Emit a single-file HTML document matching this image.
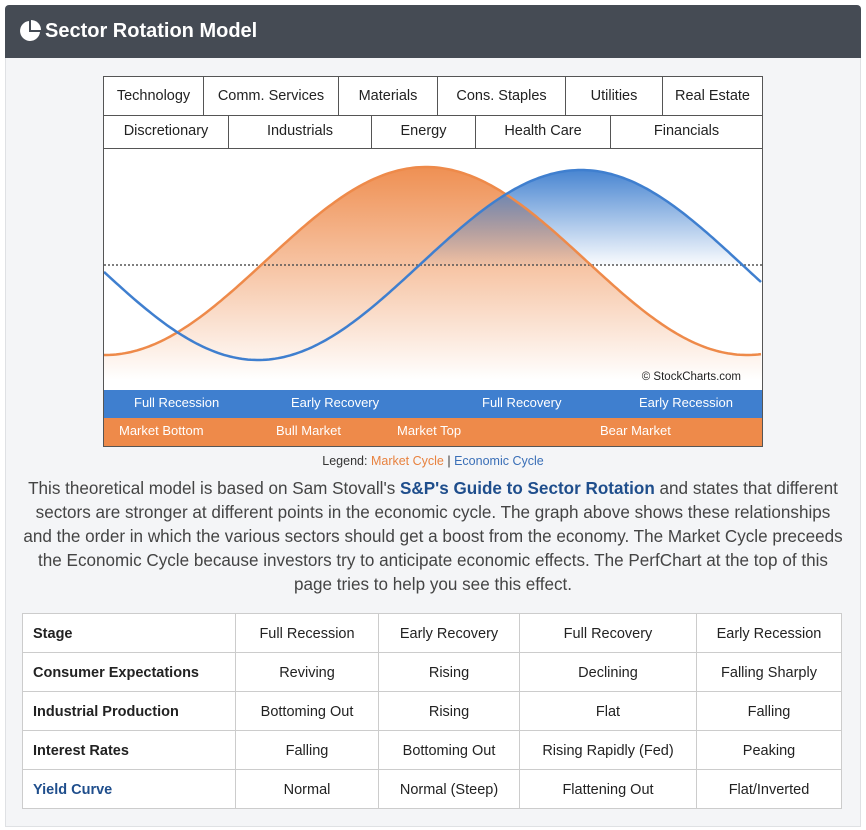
<!DOCTYPE html>
<html><head><style>
body{margin:0;width:866px;height:830px;background:#fff;font-family:"Liberation Sans",sans-serif;position:relative;overflow:hidden}
.hdr{position:absolute;left:5px;top:5px;width:856px;height:53px;background:#454b54;border-radius:4px 4px 0 0;color:#fff;font-weight:bold;font-size:20px;line-height:53px}
.body{position:absolute;left:5px;top:58px;width:854px;height:768px;background:#f4f5f7;border:1px solid #dfe1e4;border-top:none}
.chart{position:absolute;left:103px;top:76px;width:658px;height:369px;border:1px solid #555;background:#fff}
.row{position:absolute;left:0;width:658px;display:flex;border-bottom:1px solid #555}
.row div{border-right:1px solid #555;text-align:center;font-size:14.5px;color:#222;box-sizing:border-box}
.row div:last-child{border-right:none}
.band{position:absolute;left:0;width:658px;height:28px;color:#fff;font-size:13px;line-height:26px}
.band span{position:absolute}
.leg{position:absolute;top:454px;width:866px;text-align:center;font-size:12.5px;color:#333}
.para{position:absolute;left:0;top:477px;width:866px;text-align:center;font-size:17.1px;line-height:24px;color:#444;white-space:nowrap}
table{position:absolute;left:22px;top:613px;width:820px;border-collapse:collapse;background:#fff;font-size:14.5px;color:#222}
td{border:1px solid #ccc;height:38px;padding:0;text-align:center;position:relative;top:1px}
td:first-child{text-align:left;padding-left:10px;font-weight:bold}
</style></head><body>
<div class="hdr"><svg style="position:absolute;left:14px;top:15px" width="22" height="22" viewBox="0 0 22 22"><path d="M10 1 A10 10 0 1 0 21 12 L10 12 Z" fill="#fff"/><path d="M12 0 A10 10 0 0 1 22 10 L12 10Z" fill="#fff"/></svg><span style="position:absolute;left:40px">Sector Rotation Model</span></div>
<div class="body"></div>
<div class="chart">
<div class="row" style="top:0;height:38px;line-height:38px"><div style="width:100px">Technology</div><div style="width:135px">Comm. Services</div><div style="width:99px">Materials</div><div style="width:128px">Cons. Staples</div><div style="width:97px">Utilities</div><div style="width:99px">Real Estate</div></div>
<div class="row" style="top:38px;height:33px;line-height:33px"><div style="width:125px">Discretionary</div><div style="width:143px">Industrials</div><div style="width:104px">Energy</div><div style="width:135px">Health Care</div><div style="width:151px">Financials</div></div>
<svg style="position:absolute;left:0;top:72px" width="658" height="241" viewBox="103 149 658 241">
<defs>
<linearGradient id="og" gradientUnits="userSpaceOnUse" x1="0" y1="167" x2="0" y2="380"><stop offset="0" stop-color="#ee8a4a" stop-opacity="0.95"/><stop offset="1" stop-color="#ee8a4a" stop-opacity="0"/></linearGradient>
<linearGradient id="bg" gradientUnits="userSpaceOnUse" x1="0" y1="170" x2="0" y2="265"><stop offset="0" stop-color="#3f7fcf" stop-opacity="0.95"/><stop offset="1" stop-color="#3f7fcf" stop-opacity="0.03"/></linearGradient>
<clipPath id="cp"><rect x="103" y="149" width="660" height="116"/></clipPath>
</defs>
<path id="o" d="" fill="url(#og)"/>
<path id="b" d="" fill="url(#bg)" clip-path="url(#cp)"/>
<line x1="103" y1="265" x2="762" y2="265" stroke="#555" stroke-width="1.5" stroke-dasharray="2,2"/>
<path id="ol" d="" fill="none" stroke="#ee8a4a" stroke-width="2.5"/>
<path id="bl" d="" fill="none" stroke="#3f7fcf" stroke-width="2.5"/>
<text x="740" y="380" text-anchor="end" font-size="11.5" fill="#222">© StockCharts.com</text>
</svg>
<div class="band" style="top:313px;background:#3f7fcf"><span style="left:30px">Full Recession</span><span style="left:187px">Early Recovery</span><span style="left:378px">Full Recovery</span><span style="left:535px">Early Recession</span></div>
<div class="band" style="top:341px;background:#ee8a4a"><span style="left:15px">Market Bottom</span><span style="left:172px">Bull Market</span><span style="left:293px">Market Top</span><span style="left:496px">Bear Market</span></div>
</div>
<div class="leg">Legend: <span style="color:#e8823f">Market Cycle</span> | <span style="color:#3a6fb7">Economic Cycle</span></div>
<div class="para">This theoretical model is based on Sam Stovall's <b style="color:#1f4e8c">S&amp;P's Guide to Sector Rotation</b> and states that different<br>sectors are stronger at different points in the economic cycle. The graph above shows these relationships<br>and the order in which the various sectors should get a boost from the economy. The Market Cycle preceeds<br>the Economic Cycle because investors try to anticipate economic effects. The PerfChart at the top of this<br>page tries to help you see this effect.</div>
<table>
<tr><td style="width:202px">Stage</td><td style="width:142px">Full Recession</td><td style="width:140px">Early Recovery</td><td style="width:176px">Full Recovery</td><td>Early Recession</td></tr>
<tr><td>Consumer Expectations</td><td>Reviving</td><td>Rising</td><td>Declining</td><td>Falling Sharply</td></tr>
<tr><td>Industrial Production</td><td>Bottoming Out</td><td>Rising</td><td>Flat</td><td>Falling</td></tr>
<tr><td>Interest Rates</td><td>Falling</td><td>Bottoming Out</td><td>Rising Rapidly (Fed)</td><td>Peaking</td></tr>
<tr><td style="color:#1f4e8c">Yield Curve</td><td>Normal</td><td>Normal (Steep)</td><td>Flattening Out</td><td>Flat/Inverted</td></tr>
</table>
<script>
function curve(pk,amp,mid,per){var p=[];for(var x=103;x<=762;x+=3){p.push(x+","+(mid-amp*Math.cos(2*Math.PI*(x-pk)/per)).toFixed(1));}return p;}
var o=curve(425,94,261,642),b=curve(580,95,265,646);
document.getElementById('ol').setAttribute('d','M'+o.join(' L'));
document.getElementById('bl').setAttribute('d','M'+b.join(' L'));
document.getElementById('o').setAttribute('d','M'+o.join(' L')+' L762,390 L103,390Z');
document.getElementById('b').setAttribute('d','M'+b.join(' L')+' L762,390 L103,390Z');
</script>
</body></html>
